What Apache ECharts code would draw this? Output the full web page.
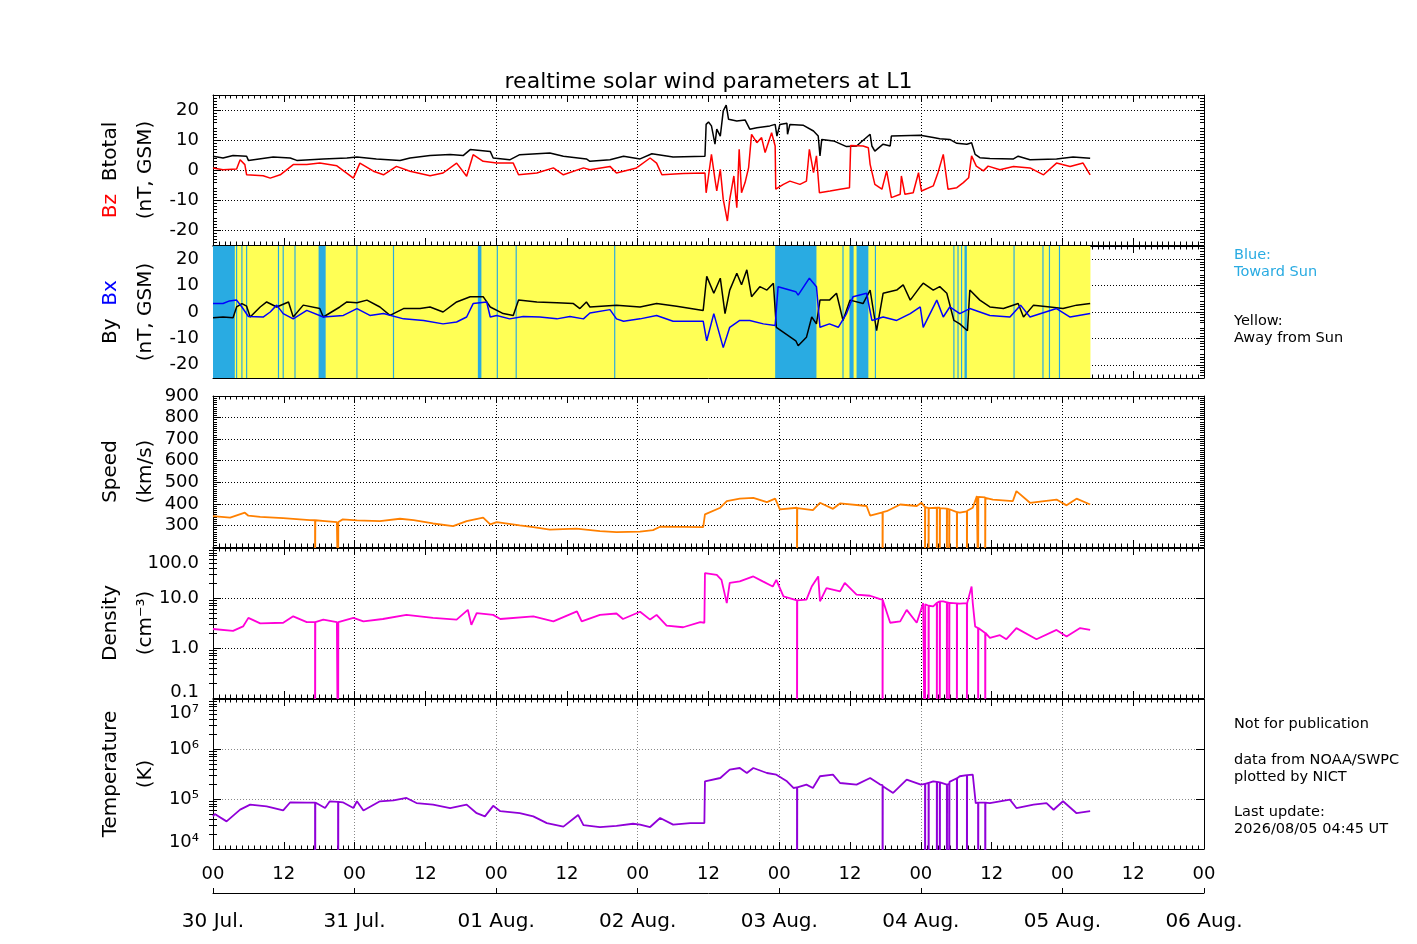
<!DOCTYPE html>
<html><head><meta charset="utf-8">
<script src="https://cdn.jsdelivr.net/npm/echarts@6/dist/echarts.min.js"></script>
<style>html,body{margin:0;padding:0;background:#fff}#c{width:1417px;height:944px}</style>
</head><body><div id="c"></div>
<script>
// ---------- data (hours since 30 Jul 00:00 UT) ----------
const dayLabels = ['30 Jul.','31 Jul.','01 Aug.','02 Aug.','03 Aug.','04 Aug.','05 Aug.','06 Aug.'];
const hourLabels = ['00','12'];
const bLinTicks = [-20,-10,0,10,20];
const awayFromSun = [[0,148.75]];
const towardSun = [[0,3.7],[3.9,4.1],[4.8,5.0],[5.6,5.8],[11.0,11.2],[11.8,12.0],[13.8,14.0],[17.9,19.1],[24.3,24.5],[30.5,30.7],[44.9,45.5],[48.1,48.3],[51.3,51.5],[68.0,68.2],[95.3,102.3],[106.7,106.9],[107.9,108.6],[109.1,111.1],[112.2,112.4],[125.5,125.7],[126.2,126.4],[126.8,127.0],[127.4,127.8],[135.7,135.9],[140.6,140.8],[141.7,141.9],[143.4,143.6]];

const btotal = [[0,4.6],[1.7,4.0],[3.4,4.8],[5.7,4.6],[6,3.2],[10.2,4.3],[13.1,4.0],[14.2,3.2],[18.7,3.7],[22.7,4.0],[24.4,4.3],[27.7,3.7],[31.7,3.2],[33.4,4.0],[36.8,4.8],[40.2,5.2],[42.4,4.8],[43.6,6.8],[47,6.2],[47.5,4.0],[50.3,3.4],[52,5.1],[57.1,5.7],[59.4,4.6],[63.3,3.7],[63.9,2.9],[67.3,3.4],[69.6,4.6],[72.4,3.7],[74.4,5.4],[78,4.3],[83.4,4.6],[83.6,15.2],[84.0,16],[84.5,14.7],[85.1,8.6],[85.4,13.6],[86.0,11.3],[86.5,19.7],[87.0,21.6],[87.4,16.9],[88.8,16.3],[90.2,16.7],[91.0,13.6],[92.2,14.1],[94.4,14.7],[95.3,15.2],[95.6,11.3],[96.1,15.2],[97.3,15.6],[97.4,11.9],[97.8,15.2],[100.1,14.9],[101.8,13],[102.6,11.3],[102.9,4.7],[103.2,10.2],[105.2,9.7],[107.4,7.8],[109.1,8],[111.4,11.9],[111.7,8],[112.2,6.3],[113.6,8.6],[114.8,8],[115.0,11.3],[119.9,11.6],[122.1,10.8],[123.2,10.4],[124.9,10.2],[126.1,8.9],[127.8,8.6],[128.6,9.1],[129.2,5.2],[130.0,4.1],[131.7,3.8],[135.7,3.7],[136.5,4.6],[138.5,3.4],[143,3.7],[145.8,4.3],[148.7,3.9]];
const bz = [[0,0.7],[1.7,0.1],[4,0.3],[4.6,3.4],[5.4,1.8],[5.7,-1.6],[8.5,-1.9],[9.7,-2.7],[11.4,-1.6],[13.6,1.8],[15.9,1.8],[18.1,2.3],[21,1.4],[23.8,-2.7],[24.9,2.3],[27.2,-0.4],[28.9,-1.6],[31.1,1.2],[33.4,-0.4],[36.8,-1.9],[39,-1.0],[41.3,2.3],[43,-2.1],[44.1,5.1],[45.8,2.9],[48.1,2.3],[50.9,2.3],[51.8,-1.6],[54.9,-1.0],[57.7,0.7],[59.4,-1.6],[62.8,0.7],[63.9,0.1],[67.3,1.2],[68.4,-1.0],[71.8,0.7],[74.1,4.0],[75.2,2.3],[76.1,-1.6],[79.7,-1.2],[83.4,-1.0],[83.6,-7.6],[84.0,-2],[84.5,5.2],[85.1,-3.1],[85.4,-7],[86.0,0.2],[86.5,-9.8],[87.2,-17],[87.6,-9.8],[88.3,-2],[88.8,-12.6],[89.2,6.9],[89.6,-7.6],[90.2,-4.2],[90.8,0.8],[91.3,11.9],[92.2,9.1],[93.0,10.8],[93.6,5.8],[94.7,12.4],[95.3,8],[95.4,-6.4],[96.7,-4.8],[97.8,-3.7],[99.5,-4.8],[100.6,-3.7],[101.1,6.9],[101.8,-0.9],[102.3,4.7],[102.8,-7.6],[104.6,-7],[106.3,-6.4],[107.9,-5.9],[108.1,8.2],[110.2,8],[111.1,7.4],[111.4,1.9],[112.2,-4.8],[113.4,-6.4],[114.2,-0.3],[115.0,-9.2],[116.5,-8.1],[116.7,-2],[117.3,-8.1],[118.7,-7.6],[119.6,-0.9],[120.1,-7],[122.1,-5.3],[122.9,-0.9],[123.8,5.2],[124.6,-6.4],[126.1,-5.9],[127.2,-4.2],[128.1,-2.6],[128.6,4.7],[129.4,1.3],[130.6,-0.3],[131.4,1.3],[133.4,0.1],[135.7,1.2],[138.5,0.7],[140.8,-1.6],[143,2.3],[145.3,1.2],[147.5,2.3],[148.7,-1.6]];
const by = [[0,-2.2],[1.7,-1.9],[3.4,-2.2],[4,1.9],[4.9,3.2],[5.7,2.2],[6.3,-1.9],[8,1.9],[9.1,3.8],[10.8,1.9],[12.8,3.8],[13.6,-1.9],[15.3,2.6],[18.1,1.3],[18.7,-1.9],[21.5,1.9],[22.7,3.8],[24.4,3.5],[26.1,4.5],[28.3,1.9],[30,-1.3],[32.3,1.3],[35.1,1.3],[36.8,1.9],[39,0],[41.3,3.8],[43.6,5.8],[45.8,5.8],[47,1.9],[49.2,-0.6],[50.9,-1.3],[51.8,4.5],[54.9,3.8],[58.3,3.5],[61.1,3.2],[62.2,1.3],[63.3,3.8],[63.9,1.9],[68.4,2.6],[72.4,1.9],[75.2,3.2],[78.6,2.2],[83.1,0.6],[83.7,13.5],[84.9,7.1],[86,12.8],[86.8,-0.6],[87.6,8.3],[88.8,14.7],[89.6,10.3],[90.5,16.0],[91.3,5.8],[92.7,9.6],[93.9,8.3],[95,10.9],[95.5,-5.8],[98.8,-10.9],[99.2,-12.8],[100.6,-9.6],[101.5,-1.9],[102.3,-4.5],[102.9,4.5],[104.5,4.5],[105.7,7.1],[106.8,-3.2],[108,4.5],[110.2,3.2],[111.4,8.3],[112.5,-7.1],[113.6,7.1],[115.9,8.3],[117,10.3],[118.2,4.5],[119.9,9.6],[120.4,10.9],[122.1,8.3],[123.2,9.6],[124.4,7.1],[125.6,-3.2],[126.6,-4.5],[127.9,-7.1],[128.3,8.3],[130,4.5],[131.7,1.9],[134,1.3],[136.5,3.2],[137.4,-1.9],[139.1,2.6],[141.9,1.9],[144.1,1.3],[146.4,2.6],[148.7,3.2]];
const bx = [[0,3.2],[1.7,3.2],[2.8,4.2],[4,4.5],[4.9,1.9],[6,-1.7],[8.5,-1.9],[9.7,0],[10.8,2.6],[11.9,-0.6],[13.6,-2.6],[15.9,0.6],[18.7,-1.9],[22.1,-1.3],[24.4,1.3],[26.6,-1.3],[28.9,-0.6],[32.3,-2.6],[35.7,-3.2],[39,-4.5],[41.3,-3.8],[43,-1.9],[44.1,3.2],[46.4,3.8],[47,-1.9],[48.1,-1.3],[50.3,-2.6],[52.6,-1.7],[55.4,-1.9],[58.3,-2.6],[60.5,-1.7],[62.8,-2.6],[63.9,-0.4],[67.3,0.9],[68.4,-2.6],[69.6,-3.5],[72.4,-2.6],[75.2,-1.3],[78,-3.5],[83.1,-3.5],[83.7,-10.9],[84.9,-0.6],[86.5,-13.5],[87.6,-5.8],[89.3,-3.2],[91,-3.2],[93.3,-4.5],[95.3,-5.1],[95.8,9.6],[98.8,7.7],[99.2,6.4],[101.1,12.8],[102.3,9.6],[102.9,-5.8],[104.5,-4.5],[106,-5.8],[107.4,-0.6],[108.5,5.8],[110.8,7.1],[111.7,-3.2],[113.6,-1.9],[115.9,-3.2],[118.2,-0.6],[119.9,1.9],[120.4,-5.8],[122.7,4.5],[123.8,-1.9],[124.9,1.9],[126.6,-0.6],[128.3,1.3],[131.7,-1.3],[135.1,-1.9],[136.9,2.6],[138.5,-1.9],[143,1.3],[145.3,-1.9],[148.7,-0.6]];
// speed: a value of 0 marks a data dropout (fill value)
const speed = [[0,343],[0.3,343],[2.9,336],[5.4,359],[6,345],[8,340],[11.9,334],[16.4,325],[17.3,324],[17.3,0],[17.35,324],[19,320],[21,315],[21.2,315],[21.2,0],[21.25,316],[22,328],[24.4,323],[28.3,320],[31.7,331],[34,325],[37.3,309],[40.7,297],[43,320],[45.8,336],[47,305],[48.1,315],[52,300],[54.3,292],[57.1,281],[61.6,285],[65.6,274],[68.4,269],[72.4,271],[74.6,278],[75.8,294],[83.1,292],[83.4,351],[86,382],[87.1,413],[89.3,424],[91.6,428],[93.9,408],[95.3,424],[96.1,374],[99,382],[99,0],[99.05,380],[101.7,371],[102.9,405],[105.1,377],[106.3,402],[110.8,390],[111.4,346],[113.5,360],[113.5,0],[113.55,362],[114.2,366],[116.5,397],[119.3,390],[120.1,405],[120.7,385],[120.7,0],[120.75,385],[121.3,380],[121.3,0],[121.35,380],[122.7,382],[122.7,0],[122.75,382],[123.2,382],[123.2,0],[123.25,380],[124.4,378],[124.4,0],[124.45,378],[124.8,375],[124.8,0],[124.85,375],[126.1,362],[126.1,0],[126.15,362],[126.6,359],[127.8,365],[127.8,0],[127.85,368],[128.8,382],[129.5,436],[129.7,436],[129.7,0],[129.75,432],[130.9,430],[130.9,0],[130.95,428],[132.2,420],[135.6,413],[136.2,459],[138.5,405],[143,420],[144.7,393],[146.4,424],[148.7,397]];
// density: 0.001 marks a dropout
const density = [[0,2.4],[0.3,2.3],[3.4,2.2],[5.1,2.7],[6,4.0],[8,3.1],[11.9,3.2],[13.6,4.3],[15.9,3.3],[17.3,3.3],[17.3,0.001],[17.35,3.3],[18.7,3.7],[21,3.3],[21.2,3.3],[21.2,0.001],[21.25,3.3],[23.8,4.0],[25.5,3.4],[28.8,3.8],[32.8,4.6],[37.3,4.0],[41.3,3.7],[43.2,5.8],[43.8,2.9],[44.7,5.0],[47.5,4.6],[48.7,3.8],[54.3,4.3],[57.7,3.4],[61.7,5.4],[62.5,3.4],[65.6,4.6],[68.4,4.9],[69.5,3.8],[72.4,5.3],[74.1,3.7],[75.2,4.6],[76.9,2.8],[79.7,2.6],[82.6,3.3],[83.3,3.2],[83.4,31.6],[85.4,29],[86.2,23],[87.1,7.9],[87.6,20],[89.3,21.5],[91.6,27],[93.2,21.5],[94.9,17],[95.5,23],[96.7,10.8],[99,9],[99,0.001],[99.05,9],[100.6,9.3],[101.5,17],[102.6,27],[102.9,8.6],[104,15.8],[106.3,13.6],[107.1,20],[109.1,11.7],[111.4,11.1],[113.1,9.5],[113.5,9.3],[113.5,0.001],[113.55,9],[114.8,3.2],[116.5,3.4],[117.6,5.8],[119.3,3.2],[120.4,7.9],[120.7,7.5],[120.7,0.001],[120.75,7.5],[121.3,7.0],[121.3,0.001],[121.35,7.0],[122.1,6.8],[122.7,8.0],[122.7,0.001],[122.75,8],[123.2,8.6],[123.2,0.001],[123.25,8.6],[123.8,8.6],[124.4,8.2],[124.4,0.001],[124.45,8.2],[124.8,8],[124.8,0.001],[124.85,8],[126.1,7.8],[126.1,0.001],[126.15,7.8],[126.6,7.7],[127.8,7.9],[127.8,0.001],[127.85,7.9],[128.6,17],[128.8,7.9],[129.2,2.7],[129.7,2.5],[129.7,0.001],[129.75,2.5],[130.9,2.0],[130.9,0.001],[130.95,2.0],[131.7,1.6],[133.4,1.8],[134.5,1.5],[136.2,2.5],[139.6,1.5],[143,2.3],[144.7,1.7],[147,2.5],[148.7,2.3]];
// temperature: 1 marks a dropout
const temperature = [[0,45000],[0.3,50000],[2.3,35700],[4.6,61200],[6.3,77000],[9.1,71000],[11.9,59000],[13.1,86000],[15.9,85000],[17.3,85000],[17.3,1],[17.35,85000],[19,66000],[19.8,90000],[21.2,88000],[21.2,1],[21.25,88000],[22,86000],[23.8,66000],[24.4,90000],[25.5,59000],[28.3,90000],[30.6,94000],[32.8,105000],[34.5,83000],[37.3,77000],[40.2,66000],[43,77000],[44.7,52000],[46.1,45000],[47.5,73000],[48.7,57000],[52,52000],[54.3,45000],[56.6,33000],[59.4,28000],[61.9,48000],[62.8,30000],[65.6,27500],[68.4,29000],[71.2,32000],[72.4,30700],[74.1,27500],[75.8,41700],[78,30700],[80.9,33000],[83.3,33000],[83.4,226000],[86,263000],[87.6,386000],[89.3,417000],[90.5,331000],[91.6,417000],[93.9,331000],[95.5,307000],[97.3,226000],[98.4,166000],[99,170000],[99,1],[99.05,170000],[100.6,194000],[101.7,166000],[102.9,285000],[105.1,307000],[106.3,209000],[109.1,194000],[111.4,263000],[113.1,194000],[113.5,190000],[113.5,1],[113.55,180000],[115.3,132000],[117.6,243000],[120,194000],[120.7,200000],[120.7,1],[120.75,200000],[121.3,210000],[121.3,1],[121.35,210000],[122.1,226000],[122.7,220000],[122.7,1],[122.75,220000],[123.2,215000],[123.2,1],[123.25,215000],[124.4,194000],[124.4,1],[124.45,194000],[124.8,200000],[124.8,1],[124.85,220000],[126.1,260000],[126.1,1],[126.15,260000],[126.6,285000],[127.8,300000],[127.8,1],[127.85,300000],[128.8,307000],[129.3,83000],[129.7,85000],[129.7,1],[129.75,85000],[130.9,85000],[130.9,1],[130.95,85000],[131.7,83000],[133.4,90000],[135.1,97000],[136.2,66000],[139.1,77000],[141.3,83000],[142.5,61000],[144.1,90000],[146.4,52000],[148.7,57000]];

// ---------- chart ----------
const FONT = 'DejaVu Sans';
const chart = echarts.init(document.getElementById('c'));
const sup = {4:'\u2074',5:'\u2075',6:'\u2076',7:'\u2077'};
function logMinor(lo, hi){ const r=[]; for(let e=lo;e<hi;e++){ for(let m=2;m<=9;m++) r.push(Number((m*Math.pow(10,e)).toPrecision(3))); } return r; }
const densMinor = logMinor(-1,2);
const tempMinor = logMinor(4,7);

const panels = [{top:95,h:150},{top:246,h:132},{top:396,h:151},{top:548,h:150},{top:699,h:150}];
const grid = panels.map(p => ({left:213, width:991, top:p.top, height:p.h, containLabel:false, outerBoundsMode:'none'}));
const dotted = [1,2];
const black = '#000';

function hourAxis(i, pos, show){
  return {type:'value', gridIndex:i, position:pos, min:0, max:168, interval:12,
    axisLine:{show:true, onZero:false, lineStyle:{color:black, width:1}},
    axisTick:{show:true, inside:true, length:7, lineStyle:{color:black, width:1}},
    minorTick:{show:true, splitNumber:12, length:3.5, lineStyle:{color:black, width:1}},
    axisLabel:{show:show, fontFamily:FONT, fontSize:18, color:black, margin:16, formatter: v => hourLabels[Math.round(v/12)%2]},
    splitLine:{show:false}, minorSplitLine:{show:false}};
}
function splitAxis(i, col){
  return {type:'value', gridIndex:i, position:'bottom', min:0, max:168, interval:24,
    axisLine:{show:false}, axisTick:{show:false}, axisLabel:{show:false},
    splitLine:{show:true, lineStyle:{color:col, width:1, type:dotted}}};
}
const xAxis = [];
for (let i=0;i<5;i++){
  xAxis.push(hourAxis(i,'bottom',i===4));
  xAxis.push(hourAxis(i,'top',false));
  xAxis.push(splitAxis(i, i===4 ? '#888' : black));
}
xAxis.push({type:'value', gridIndex:4, position:'bottom', offset:44, min:0, max:168, interval:24,
  axisLine:{show:true, onZero:false, lineStyle:{color:black}},
  axisTick:{show:true, inside:true, length:5, lineStyle:{color:black}},
  axisLabel:{fontFamily:FONT, fontSize:20, color:black, margin:19, formatter: v => dayLabels[Math.round(v/24)]},
  splitLine:{show:false}});

const nameStyle = {fontFamily:FONT, fontSize:20, color:black, lineHeight:35, rich:{r:{color:'#ff0000', fontSize:20, fontFamily:FONT}, b:{color:'#0000ff', fontSize:20, fontFamily:FONT}, k:{color:black, fontSize:20, fontFamily:FONT}}};
const lblBase = {fontFamily:FONT, fontSize:18, color:black, margin:14};
const tickBase = {show:true, inside:true, length:8, lineStyle:{color:black}};
const minorBase = {show:true, length:4, lineStyle:{color:black}};

const yAxis = [];
function addY(o){ yAxis.push(o); return yAxis.length-1; }
function nameOpts(name){ return {name, nameLocation:'middle', nameRotate:90, nameGap:50, nameMoveOverlap:false, nameTextStyle:nameStyle}; }
function linPanel(i, name, min, max, interval, minorSplit, ticks, fmt){
  const left = addY(Object.assign({type:'value', gridIndex:i, position:'left', min, max, interval,
    axisLine:{show:true, onZero:false, lineStyle:{color:black}},
    axisTick: ticks ? Object.assign({customValues:ticks}, tickBase) : tickBase,
    minorTick:Object.assign({splitNumber:minorSplit}, minorBase),
    axisLabel: Object.assign(ticks ? {customValues:ticks} : {}, lblBase, fmt ? {formatter:fmt} : {}),
    splitLine:{show:true, lineStyle:{color:black, type:dotted, width:1}}}, nameOpts(name)));
  addY({type:'value', gridIndex:i, position:'right', min, max, interval,
    axisLine:{show:true, onZero:false, lineStyle:{color:black}},
    axisTick: ticks ? Object.assign({customValues:ticks}, tickBase) : tickBase,
    minorTick:Object.assign({splitNumber:minorSplit}, minorBase),
    axisLabel:{show:false}, splitLine:{show:false}});
  return left;
}
function logPanel(i, name, min, max, minors, fmt, rich, gridCol){
  const left = addY(Object.assign({type:'log', logBase:10, gridIndex:i, position:'left', min, max,
    axisLine:{show:true, onZero:false, lineStyle:{color:black}},
    axisTick:tickBase, minorTick:{show:false},
    axisLabel:Object.assign({formatter:fmt, rich}, lblBase),
    splitLine:{show:true, lineStyle:{color:gridCol, type:dotted, width:1}}}, nameOpts(name)));
  addY({type:'log', logBase:10, gridIndex:i, position:'right', min, max,
    axisLine:{show:true, onZero:false, lineStyle:{color:black}},
    axisTick:tickBase, minorTick:{show:false}, axisLabel:{show:false}, splitLine:{show:false}});
  ['left','right'].forEach(pos => addY({type:'log', logBase:10, gridIndex:i, position:pos, min, max,
    axisLine:{show:false}, axisTick:{show:true, inside:true, length:4, customValues:minors, lineStyle:{color:black}},
    minorTick:{show:false}, axisLabel:{show:false}, splitLine:{show:false}}));
  return left;
}
const richShift = {
  t:{padding:[30,0,0,0], fontFamily:FONT, fontSize:18, color:black},
  b:{padding:[0,0,12,0], fontFamily:FONT, fontSize:18, color:black}
};
const yB = linPanel(0, '{r|Bz}  {k|Btotal}\n(nT, GSM)', -25, 25, 5, 5, bLinTicks);
const yXY = linPanel(1, '{k|By}  {b|Bx}\n(nT, GSM)', -25, 25, 5, 5, bLinTicks);
const yV = linPanel(2, 'Speed\n(km/s)', 200, 900, 100, 10, null, v => v === 200 ? '' : String(v));
const yN = logPanel(3, 'Density\n(cm\u207B\u00B3)', 0.1, 100, densMinor, v => {
  const s = Number(v.toPrecision(3)).toFixed(1);
  if (v > 50) return '{t|' + s + '}';
  if (v < 0.2) return '{b|' + s + '}';
  return s;
}, richShift, black);
const yT = logPanel(4, 'Temperature\n(K)', 1e4, 1e7, tempMinor, v => {
  const e = Math.round(Math.log10(v));
  const s = '10' + sup[e];
  if (e === 7) return '{t|' + s + '}';
  if (e === 4) return '{b|' + s + '}';
  return s;
}, {t:{padding:[28,0,0,0], fontFamily:FONT, fontSize:18, color:black}, b:{padding:[0,0,14,0], fontFamily:FONT, fontSize:18, color:black}}, '#888');

function line(gi, yi, data, color, z, w){
  return {type:'line', xAxisIndex:3*gi, yAxisIndex:yi, data, symbol:'none', showSymbol:false,
    lineStyle:{color, width:w||1.5}, itemStyle:{color}, z:z||3, clip:true, animation:false, silent:true};
}
const sectorAreas = awayFromSun.map(([a,b]) => [{xAxis:a, itemStyle:{color:'#ffff55'}},{xAxis:b}])
  .concat(towardSun.map(([a,b]) => [{xAxis:a, itemStyle:{color:'#29abe2'}},{xAxis:b}]));

const series = [
  {type:'line', xAxisIndex:3, yAxisIndex:yXY, data:[], z:-1, silent:true,
    markArea:{silent:true, label:{show:false}, itemStyle:{opacity:1}, data:sectorAreas}},
  line(0, yB, btotal, '#000000'),
  line(0, yB, bz, '#ff0000', 4),
  line(1, yXY, by, '#000000'),
  line(1, yXY, bx, '#0000ff', 4),
  line(2, yV, speed, '#ff8000', 3, 1.8),
  line(3, yN, density, '#ff00d8', 3, 1.8),
  line(4, yT, temperature, '#9000d8', 3, 1.8)
];

const txt = (x, y, text, fill) => ({type:'text', x, y, silent:true,
  style:{text, fill, font:'14.5px "DejaVu Sans"', lineHeight:17, verticalAlign:'top', align:'left'}});

chart.setOption({
  animation:false,
  backgroundColor:'#fff',
  textStyle:{fontFamily:FONT},
  title:{text:'realtime solar wind parameters at L1', left:'center', top:66,
    textStyle:{fontFamily:FONT, fontSize:22, fontWeight:'normal', color:black}},
  grid, xAxis, yAxis, series,
  graphic:[
    txt(1234, 246.5, 'Blue:\nToward Sun', '#29abe2'),
    txt(1234, 312.5, 'Yellow:\nAway from Sun', black),
    txt(1234, 715.5, 'Not for publication', black),
    txt(1234, 751.5, 'data from NOAA/SWPC\nplotted by NICT', black),
    txt(1234, 804, 'Last update:\n2026/08/05 04:45 UT', black)
  ]
});
</script></body></html>
